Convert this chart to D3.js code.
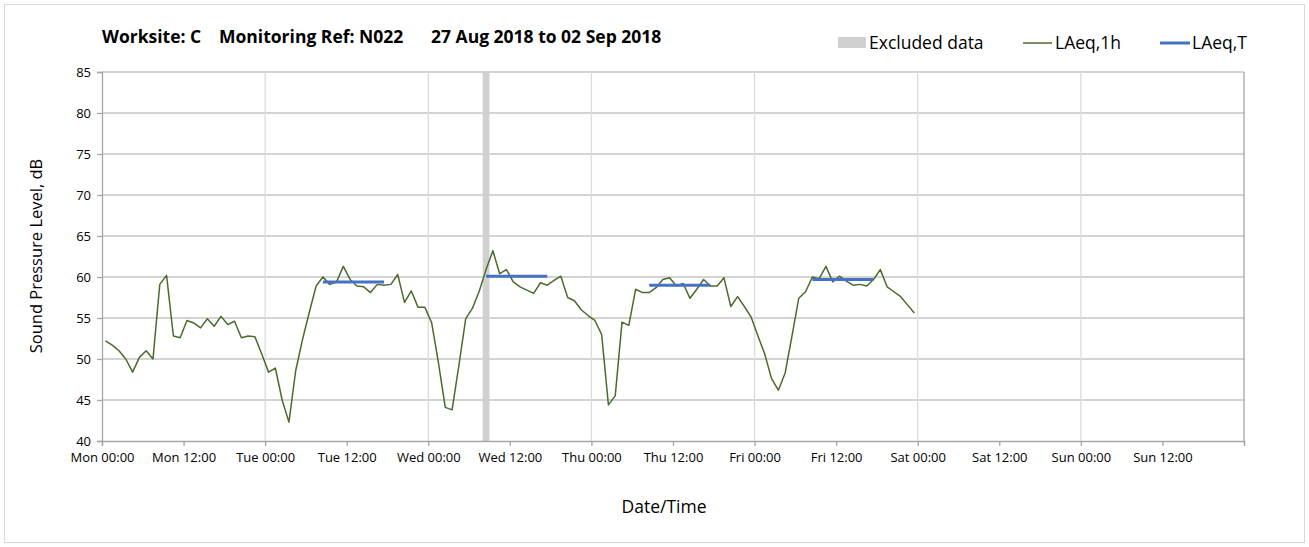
<!DOCTYPE html>
<html>
<head>
<meta charset="utf-8">
<script src="https://cdn.jsdelivr.net/npm/d3@7/dist/d3.min.js"></script>
<style>
    body { margin: 0; background: #fff; }
    svg { font-family: "Open Sans", Lato, sans-serif; }
    .tick text { fill: #000; }
</style>
</head>
<body>
<script>
// hourly LAeq,1h from Mon 27 Aug 2018 00:00
let laeq1h = [
    52.2, 51.7, 51.0, 50.0, 48.4, 50.2, 51.0, 50.0, 59.1, 60.2,
    52.8, 52.6, 54.7, 54.4, 53.8, 54.9, 54.0, 55.2, 54.2, 54.6,
    52.6, 52.8, 52.7, 50.6, 48.4, 48.9, 45.0, 42.3, 48.6, 52.4,
    55.7, 58.9, 60.0, 59.1, 59.4, 61.3, 59.7, 58.9, 58.8, 58.1,
    59.1, 59.0, 59.1, 60.3, 56.9, 58.3, 56.3, 56.3, 54.4, 49.5,
    44.1, 43.8, 49.2, 54.9, 56.2, 58.3, 60.9, 63.2, 60.4, 60.9,
    59.4, 58.8, 58.4, 58.0, 59.3, 59.0, 59.6, 60.1, 57.5, 57.1,
    56.0, 55.3, 54.7, 53.0, 44.4, 45.5, 54.5, 54.1, 58.5, 58.1,
    58.1, 58.7, 59.7, 59.9, 58.9, 59.2, 57.4, 58.5, 59.7, 58.9,
    58.9, 59.9, 56.4, 57.6, 56.4, 55.1, 52.8, 50.6, 47.6, 46.2,
    48.3, 52.8, 57.4, 58.2, 60.0, 59.8, 61.3, 59.4, 60.1, 59.5,
    59.0, 59.1, 58.9, 59.7, 60.9, 58.8, 58.2, 57.6, 56.6, 55.6
];
let startDate = new Date(2018, 7, 27, 0, 0);
let endDate = new Date(2018, 8, 3, 0, 0);

// LAeq,T daytime periods (08:00 - 18:00)
let laeqTStart = ["2018-08-28 08:00", "2018-08-29 08:00", "2018-08-30 08:00", "2018-08-31 08:00"];
let laeqTEnd = ["2018-08-28 18:00", "2018-08-29 18:00", "2018-08-30 18:00", "2018-08-31 18:00"];
let laeqTValues = [59.4, 60.1, 59.0, 59.7];

// excluded data
let excludedStart = ["2018-08-29 08:00"];
let excludedEnd = ["2018-08-29 09:00"];

let yTicks = [40, 45, 50, 55, 60, 65, 70, 75, 80, 85];

let parse = d3.timeParse("%Y-%m-%d %H:%M");
let hour = 3600 * 1000;

let svg = d3.select("body").append("svg")
    .attr("width", 1309)
    .attr("height", 547);

svg.append("rect")
    .attr("x", 4.5).attr("y", 4.5)
    .attr("width", 1300).attr("height", 538)
    .attr("fill", "#fff").attr("stroke", "#d9d9d9");

let x = d3.scaleTime().domain([startDate, endDate]).range([102, 1244]);
let y = d3.scaleLinear().domain([40, 85]).range([441, 72]);

// horizontal grid
svg.append("g").selectAll("line")
    .data(yTicks.slice(1)).enter().append("line")
    .attr("x1", 102).attr("x2", 1244)
    .attr("y1", d => y(d)).attr("y2", d => y(d))
    .attr("stroke", "#c4c4c4").attr("stroke-width", 1.3);

// vertical grid (days)
let days = d3.timeDay.range(startDate, endDate).slice(1);
svg.append("g").selectAll("line")
    .data(days).enter().append("line")
    .attr("x1", d => x(d)).attr("x2", d => x(d))
    .attr("y1", 72).attr("y2", 441)
    .attr("stroke", "#dcdcdc").attr("stroke-width", 1.3);

svg.append("line")
    .attr("x1", 1244).attr("x2", 1244).attr("y1", 72).attr("y2", 441)
    .attr("stroke", "#a6a6a6").attr("stroke-width", 1.3);

// excluded band
svg.append("g").selectAll("rect")
    .data(excludedStart).enter().append("rect")
    .attr("x", d => x(parse(d)))
    .attr("width", (d, i) => x(parse(excludedEnd[i])) - x(parse(d)))
    .attr("y", 72).attr("height", 369)
    .attr("fill", "#d0d0d0");

// axes
let xAxis = d3.axisBottom(x)
    .tickValues(d3.timeHour.every(12).range(startDate, new Date(+endDate + 1)))
    .tickFormat(d => +d === +endDate ? "" : d3.timeFormat("%a %H:%M")(d))
    .tickSize(5).tickPadding(7);
let gx = svg.append("g").attr("transform", "translate(0,441)").call(xAxis);
gx.selectAll("text").attr("font-size", 13).attr("font-family", "\"Open Sans\", sans-serif");

let yAxis = d3.axisLeft(y).tickValues(yTicks).tickSize(5).tickPadding(6);
let gy = svg.append("g").attr("transform", "translate(102,0)").call(yAxis);
gy.selectAll("text").attr("font-size", 13).attr("font-family", "\"Open Sans\", sans-serif");

svg.selectAll(".domain, .tick line").attr("stroke", "#a6a6a6").attr("stroke-width", 1.3);

// LAeq,1h line
let line = d3.line()
    .x((d, i) => x(new Date(+startDate + (i + 0.5) * hour)))
    .y(d => y(d));
svg.append("path")
    .datum(laeq1h)
    .attr("d", line)
    .attr("fill", "none")
    .attr("stroke", "#4a6b2c")
    .attr("stroke-width", 1.5)
    .attr("stroke-linejoin", "round");

// LAeq,T segments
svg.append("g").selectAll("line")
    .data(laeqTValues).enter().append("line")
    .attr("x1", (d, i) => x(new Date(+parse(laeqTStart[i]) + 0.5 * hour)))
    .attr("x2", (d, i) => x(new Date(+parse(laeqTEnd[i]) - 0.5 * hour)))
    .attr("y1", d => y(d)).attr("y2", d => y(d))
    .attr("stroke", "#4472c4").attr("stroke-width", 3);

// title
let title = svg.append("g").attr("font-weight", "bold").attr("font-size", 17.5);
title.append("text").attr("x", 102).attr("y", 43).text("Worksite: C");
title.append("text").attr("x", 219).attr("y", 43).text("Monitoring Ref: N022");
title.append("text").attr("x", 431).attr("y", 43).text("27 Aug 2018 to 02 Sep 2018");

// legend
let legend = svg.append("g").attr("font-size", 17.5);
legend.append("rect").attr("x", 838).attr("y", 37).attr("width", 28).attr("height", 11).attr("fill", "#d0d0d0");
legend.append("text").attr("x", 869).attr("y", 49).text("Excluded data");
legend.append("line").attr("x1", 1023).attr("x2", 1052).attr("y1", 43).attr("y2", 43)
    .attr("stroke", "#4a6b2c").attr("stroke-width", 1.5);
legend.append("text").attr("x", 1055).attr("y", 49).text("LAeq,1h");
legend.append("line").attr("x1", 1160).attr("x2", 1190).attr("y1", 43).attr("y2", 43)
    .attr("stroke", "#4472c4").attr("stroke-width", 3);
legend.append("text").attr("x", 1192).attr("y", 49).text("LAeq,T");

// axis titles
svg.append("text")
    .attr("transform", "translate(42,256) rotate(-90)")
    .attr("text-anchor", "middle")
    .attr("font-size", 16.5)
    .text("Sound Pressure Level, dB");
svg.append("text")
    .attr("x", 664).attr("y", 513)
    .attr("text-anchor", "middle")
    .attr("font-size", 17.5)
    .text("Date/Time");
</script>
</body>
</html>
